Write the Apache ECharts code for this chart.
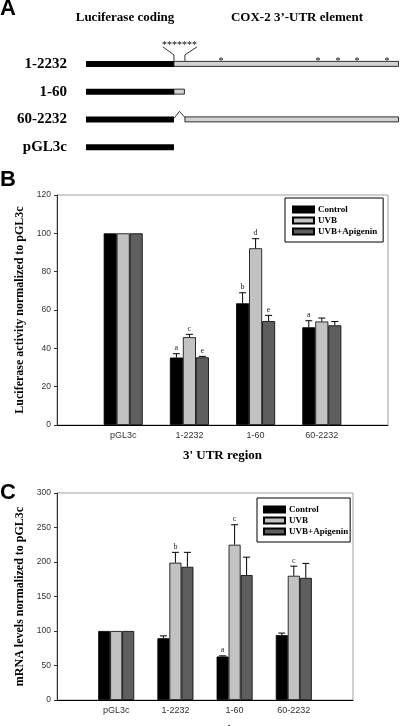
<!DOCTYPE html>
<html><head><meta charset="utf-8">
<script src="https://cdn.jsdelivr.net/npm/echarts@6/dist/echarts.min.js"></script>
<style>html,body{margin:0;padding:0;background:#fff}#c{width:400px;height:726px}</style>
</head><body><div id="c"></div>
<script>
// ---------- Panel A: construct schematic (schematic units, 0 = start of luciferase, 1 = end of full UTR) ----------
const constructs = ['1-2232', '1-60', '60-2232', 'pGL3c'];
const lucEnd   = [0.281, 0.281, 0.281, 0.281];
const utrStart = [0.281, 0.281, 0.316, null];
const utrEnd   = [1.0,   0.316, 1.0,   null];
const deletionLoop = [false, false, true, false];
const areClusterStart = 0.281, areClusterEnd = 0.316;   // cluster of AREs in first 60 nt
const areStarPos = [0.431, 0.741, 0.805, 0.866, 0.962];  // isolated AREs on 1-2232

// ---------- Panels B and C ----------
const regions = ['pGL3c', '1-2232', '1-60', '60-2232'];
const seriesNames = ['Control', 'UVB', 'UVB+Apigenin'];
const colors = ['#000000', '#c2c2c2', '#5e5e5e'];

// B: Luciferase activity normalized to pGL3c
const lucControl = [100, 35.2, 63.5, 51];
const lucUVB     = [100, 45.8, 92.2, 54];
const lucApig    = [100, 35.3, 54.2, 52];
const lucErrControl = [0, 2.0, 5.5, 3.4];
const lucErrUVB     = [0, 1.5, 5.0, 1.8];
const lucErrApig    = [0, 0.5, 3.0, 2.0];
const lucLetControl = ['', 'a', 'b', 'a'];
const lucLetUVB     = ['', 'c', 'd', ''];
const lucLetApig    = ['', 'e', 'e', ''];

// C: mRNA levels normalized to pGL3c
const mrnaControl = [100, 89.5, 63, 94];
const mrnaUVB     = [100, 199, 225, 180];
const mrnaApig    = [100, 193, 181, 177];
const mrnaErrControl = [0, 3.5, 1, 3];
const mrnaErrUVB     = [0, 15, 29, 14];
const mrnaErrApig    = [0, 21, 26, 21];
const mrnaLetControl = ['', '', 'a', ''];
const mrnaLetUVB     = ['', 'b', 'c', 'c'];
const mrnaLetApig    = ['', '', '', ''];

const yTicksB = {min: 0, max: 120, interval: 20};
const yTicksC = {min: 0, max: 300, interval: 50};

const SERIF = "'Liberation Serif','Times New Roman',serif";
const SANS = "'Liberation Sans',Arial,sans-serif";

const chart = echarts.init(document.getElementById('c'), null, {renderer: 'canvas'});

const xCats = [''].concat(regions, ['']);
function pad(arr) { return ['-'].concat(arr, ['-']); }

function barSeries(gi, vals) {
  return vals.map((v, k) => ({
    type: 'bar', name: seriesNames[k], xAxisIndex: gi, yAxisIndex: gi,
    data: pad(v), barWidth: gi === 1 ? 13 : 12, barGap: '0%',
    itemStyle: {color: colors[k], borderColor: '#000', borderWidth: 0.8},
    silent: true, animation: false
  }));
}

function errSeries(gi, k, vals, errs, lets) {
  const bw = gi === 1 ? 13 : 12;
  return {
    type: 'custom', xAxisIndex: gi, yAxisIndex: gi, silent: true, animation: false,
    data: vals.map((v, i) => [i + 1, v, errs[i]]),
    renderItem: function (params, api) {
      const i = params.dataIndex;
      const base = api.coord([api.value(0), api.value(1)]);
      const top = api.coord([api.value(0), api.value(1) + api.value(2)]);
      const x = base[0] + (k - 1) * bw;
      const ch = [];
      if (api.value(2) > 0) {
        ch.push({type: 'line', shape: {x1: x, y1: base[1], x2: x, y2: top[1]}, style: {stroke: '#000', lineWidth: 1}});
        ch.push({type: 'line', shape: {x1: x - 3.5, y1: top[1], x2: x + 3.5, y2: top[1]}, style: {stroke: '#000', lineWidth: 1}});
      }
      if (lets[i]) {
        ch.push({type: 'text', x: x, y: top[1] - 1.5, style: {text: lets[i], fill: '#222', font: '8px ' + SERIF, align: 'center', verticalAlign: 'bottom'}});
      }
      return {type: 'group', children: ch};
    }
  };
}

function renderConstruct(params, api) {
  const i = params.dataIndex;
  const row = api.value(0);
  const h = 6;
  const yc = api.coord([0, row])[1];
  const x0 = api.coord([0, row])[0];
  const xl = api.coord([lucEnd[i], row])[0];
  const ch = [{type: 'rect', shape: {x: x0, y: yc - h / 2, width: xl - x0, height: h}, style: {fill: '#000'}}];
  if (utrStart[i] != null) {
    const xs = api.coord([utrStart[i], row])[0];
    const xe = api.coord([utrEnd[i], row])[0] - 0.5;
    ch.push({type: 'rect', shape: {x: xs, y: yc - h / 2 + 0.5, width: xe - xs, height: h - 1}, style: {fill: '#d2d2d2', stroke: '#000', lineWidth: 0.8}});
    if (deletionLoop[i]) {
      ch.push({type: 'polyline', shape: {points: [[xl, yc - 1], [(xl + xs) / 2, yc - 8], [xs, yc - 2]]}, style: {stroke: '#000', lineWidth: 0.8, fill: null}});
    }
  }
  if (i === 0) {
    const xa = api.coord([areClusterStart, row])[0];
    const xb = api.coord([areClusterEnd, row])[0];
    ch.push({type: 'polyline', shape: {points: [[xa, yc - 3], [xa, yc - 9], [xa - 11, yc - 17]]}, style: {stroke: '#000', lineWidth: 0.8, fill: null}});
    ch.push({type: 'polyline', shape: {points: [[xb, yc - 3], [xb, yc - 9], [xb + 12, yc - 17]]}, style: {stroke: '#000', lineWidth: 0.8, fill: null}});
    ch.push({type: 'text', x: (xa + xb) / 2, y: yc - 19, style: {text: '*******', fill: '#000', font: '10px ' + SERIF, align: 'center', verticalAlign: 'middle'}});
    areStarPos.forEach(p => {
      const xp = api.coord([p, row])[0];
      ch.push({type: 'text', x: xp, y: yc - 3, style: {text: '*', fill: '#000', font: '10px ' + SERIF, align: 'center', verticalAlign: 'middle'}});
    });
  }
  return {type: 'group', children: ch};
}

const axisLabelY = {color: '#333', fontSize: 8.5, fontFamily: SANS, margin: 6};
const axisNameStyle = {color: '#000', fontSize: 12, fontWeight: 'bold', fontFamily: SERIF};

const legendBase = {
  orient: 'vertical', itemWidth: 21, itemHeight: 6, itemGap: 2, icon: 'rect',
  borderColor: '#000', borderWidth: 1, backgroundColor: '#fff',
  selectedMode: false, align: 'left',
  textStyle: {fontSize: 9, fontWeight: 'bold', fontFamily: SERIF, color: '#000', lineHeight: 9, padding: [0, 0, 0, -1]},
  data: seriesNames
};

const option = {
  animation: false,
  backgroundColor: '#fff',
  grid: [
    {left: 86, top: 50, width: 313, height: 111, outerBoundsMode: 'none', containLabel: false},
    {left: 57, top: 195, width: 331, height: 230, show: true, borderColor: '#888', borderWidth: 0.8, outerBoundsMode: 'none', containLabel: false},
    {left: 57, top: 493, width: 296, height: 207, show: true, borderColor: '#888', borderWidth: 0.8, outerBoundsMode: 'none', containLabel: false}
  ],
  xAxis: [
    {gridIndex: 0, type: 'value', min: 0, max: 1, show: false},
    {gridIndex: 1, type: 'category', data: xCats, boundaryGap: false,
      axisLine: {lineStyle: {color: '#000', width: 1}}, axisTick: {show: false},
      axisLabel: {interval: 0, color: '#333', fontSize: 9, fontFamily: SANS, margin: 6},
      name: "3' UTR region", nameLocation: 'middle', nameGap: 24,
      nameTextStyle: {color: '#000', fontSize: 13, fontWeight: 'bold', fontFamily: SERIF}},
    {gridIndex: 2, type: 'category', data: xCats, boundaryGap: false,
      axisLine: {lineStyle: {color: '#000', width: 1}}, axisTick: {show: false},
      axisLabel: {interval: 0, color: '#333', fontSize: 9, fontFamily: SANS, margin: 6},
      name: "3' UTR region", nameLocation: 'middle', nameGap: 24,
      nameTextStyle: {color: '#000', fontSize: 13, fontWeight: 'bold', fontFamily: SERIF}}
  ],
  yAxis: [
    {gridIndex: 0, type: 'category', data: constructs, inverse: true,
      axisLine: {show: false}, axisTick: {show: false},
      axisLabel: {color: '#000', fontSize: 15, fontWeight: 'bold', fontFamily: SERIF, margin: 19}},
    {gridIndex: 1, type: 'value', min: yTicksB.min, max: yTicksB.max, interval: yTicksB.interval,
      splitLine: {show: false}, axisLine: {show: true, lineStyle: {color: '#333', width: 1}},
      axisTick: {show: true, length: 3, lineStyle: {color: '#333'}}, axisLabel: axisLabelY,
      name: 'Luciferase activity normalized to pGL3c', nameLocation: 'middle', nameGap: 29, nameTextStyle: axisNameStyle},
    {gridIndex: 2, type: 'value', min: yTicksC.min, max: yTicksC.max, interval: yTicksC.interval,
      splitLine: {show: false}, axisLine: {show: true, lineStyle: {color: '#333', width: 1}},
      axisTick: {show: true, length: 3, lineStyle: {color: '#333'}}, axisLabel: axisLabelY,
      name: 'mRNA levels normalized to pGL3c', nameLocation: 'middle', nameGap: 29, nameTextStyle: axisNameStyle}
  ],
  legend: [
    Object.assign({}, legendBase, {left: 285, top: 198, padding: [7, 6, 6, 7]}),
    Object.assign({}, legendBase, {left: 257, top: 498, padding: [7, 2, 6, 6]})
  ],
  graphic: [
    {type: 'text', left: 0, top: -2, style: {text: 'A', font: 'bold 22px ' + SANS, fill: '#000'}},
    {type: 'text', left: 0, top: 169, style: {text: 'B', font: 'bold 22px ' + SANS, fill: '#000'}},
    {type: 'text', left: 0, top: 482, style: {text: 'C', font: 'bold 22px ' + SANS, fill: '#000'}},
    {type: 'text', x: 125, y: 18, style: {text: 'Luciferase coding', font: 'bold 13px ' + SERIF, fill: '#000', align: 'center', verticalAlign: 'middle'}},
    {type: 'text', x: 297, y: 18, style: {text: 'COX-2 3\u2019-UTR element', font: 'bold 13px ' + SERIF, fill: '#000', align: 'center', verticalAlign: 'middle'}}
  ],
  series: [
    {type: 'custom', xAxisIndex: 0, yAxisIndex: 0, silent: true, animation: false,
      data: constructs.map((c, i) => [i]), renderItem: renderConstruct, clip: false}
  ].concat(
    barSeries(1, [lucControl, lucUVB, lucApig]),
    [errSeries(1, 0, lucControl, lucErrControl, lucLetControl),
     errSeries(1, 1, lucUVB, lucErrUVB, lucLetUVB),
     errSeries(1, 2, lucApig, lucErrApig, lucLetApig)],
    barSeries(2, [mrnaControl, mrnaUVB, mrnaApig]),
    [errSeries(2, 0, mrnaControl, mrnaErrControl, mrnaLetControl),
     errSeries(2, 1, mrnaUVB, mrnaErrUVB, mrnaLetUVB),
     errSeries(2, 2, mrnaApig, mrnaErrApig, mrnaLetApig)]
  )
};
chart.setOption(option);
</script>
</body></html>
